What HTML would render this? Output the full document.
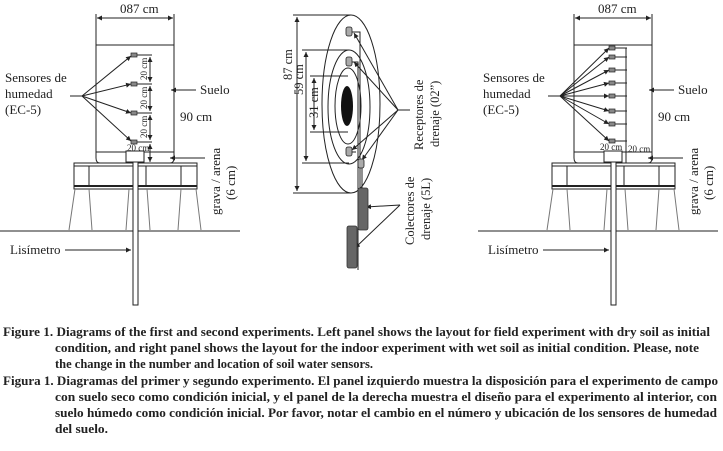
<!DOCTYPE html>
<html><head><meta charset="utf-8"><style>
html,body{margin:0;padding:0;background:#fff;}
svg{display:block;}
text{font-family:"Liberation Serif",serif;fill:#222;}
.cap{font-weight:bold;font-size:12.5px;}
</style></head><body>
<svg width="723" height="451" viewBox="0 0 723 451" xmlns="http://www.w3.org/2000/svg">
<defs>
<marker id="a" markerWidth="6" markerHeight="6" refX="5" refY="3" orient="auto"><path d="M0,0.5 L5,3 L0,5.5z" fill="#222"/></marker>
<marker id="b" markerWidth="6" markerHeight="6" refX="1" refY="3" orient="auto"><path d="M6,0.5 L1,3 L6,5.5z" fill="#222"/></marker>
<g id="base" stroke="#222" fill="none" stroke-width="1">
  <path d="M96,45 H174 V158 Q174,163 170,163 M96,45 V158 Q96,163 100,163"/>
  <line x1="96" y1="152" x2="174" y2="152"/>
  <line x1="96" y1="14" x2="96" y2="45"/><line x1="174" y1="14" x2="174" y2="45"/>
  <line x1="97" y1="18" x2="173" y2="18" marker-start="url(#b)" marker-end="url(#a)"/>
  <rect x="74" y="163" width="123" height="26"/>
  <line x1="74" y1="166" x2="197" y2="166"/><line x1="74" y1="186" x2="197" y2="186" stroke-width="2"/>
  <line x1="89" y1="166" x2="89" y2="186"/><line x1="146" y1="166" x2="146" y2="186"/><line x1="181" y1="166" x2="181" y2="186"/>
  <path d="M75,189 L69,230 M89,189 L92,230 M129,189 L126,230 M147,189 L150,230 M181,189 L178,230 M196,189 L201,230" stroke="#777"/>
  <line x1="0" y1="231" x2="240" y2="231"/>
  <rect x="133" y="160" width="5" height="145" fill="#fff"/>
  <rect x="126" y="151" width="18" height="11" fill="#fff"/>
  <line x1="65" y1="250" x2="131" y2="250" marker-end="url(#a)"/>
  <line x1="196" y1="90" x2="171" y2="90" marker-end="url(#a)"/>
  <line x1="205" y1="158" x2="170" y2="158" marker-end="url(#a)"/>
  <line x1="70" y1="96" x2="82" y2="96"/>
</g>
</defs>

<!-- LEFT PANEL -->
<use href="#base"/>
<text x="120" y="13" font-size="13">087 cm</text>
<text x="5" y="82" font-size="13">Sensores de</text>
<text x="5" y="98" font-size="13">humedad</text>
<text x="5" y="114" font-size="13">(EC-5)</text>
<text x="200" y="94" font-size="13">Suelo</text>
<text x="180" y="121" font-size="13">90 cm</text>
<text x="10" y="254" font-size="13">Lisímetro</text>
<text transform="translate(220,215) rotate(-90)" font-size="13">grava / arena</text>
<text transform="translate(235,200) rotate(-90)" font-size="13">(6 cm)</text>
<g stroke="#222" fill="none">
  <line x1="82" y1="96" x2="131" y2="56" marker-end="url(#a)"/>
  <line x1="82" y1="96" x2="131" y2="84" marker-end="url(#a)"/>
  <line x1="82" y1="96" x2="131" y2="113" marker-end="url(#a)"/>
  <line x1="82" y1="96" x2="131" y2="141" marker-end="url(#a)"/>
  <line x1="137" y1="55" x2="152" y2="55"/><line x1="137" y1="84" x2="152" y2="84"/><line x1="137" y1="113" x2="152" y2="113"/><line x1="137" y1="142" x2="152" y2="142"/>
  <line x1="150" y1="57" x2="150" y2="82" marker-start="url(#b)" marker-end="url(#a)"/>
  <line x1="150" y1="86" x2="150" y2="111" marker-start="url(#b)" marker-end="url(#a)"/>
  <line x1="150" y1="115" x2="150" y2="140" marker-start="url(#b)" marker-end="url(#a)"/>
  <line x1="150" y1="144" x2="150" y2="162" marker-start="url(#b)" marker-end="url(#a)"/>
</g>
<g fill="#888" stroke="#222" stroke-width="0.7">
  <rect x="131" y="53" width="6" height="4"/><rect x="131" y="82" width="6" height="4"/><rect x="131" y="111" width="6" height="4"/><rect x="131" y="140" width="6" height="4"/>
</g>
<g font-size="9">
<text transform="translate(147,80) rotate(-90)">20 cm</text>
<text transform="translate(147,109) rotate(-90)">20 cm</text>
<text transform="translate(147,138) rotate(-90)">20 cm</text>
<text x="127" y="151">20 cm</text>
</g>

<!-- RIGHT PANEL -->
<use href="#base" transform="translate(478,0)"/>
<text x="598" y="13" font-size="13">087 cm</text>
<text x="483" y="82" font-size="13">Sensores de</text>
<text x="483" y="98" font-size="13">humedad</text>
<text x="483" y="114" font-size="13">(EC-5)</text>
<text x="678" y="94" font-size="13">Suelo</text>
<text x="658" y="121" font-size="13">90 cm</text>
<text x="488" y="254" font-size="13">Lisímetro</text>
<text transform="translate(698,215) rotate(-90)" font-size="13">grava / arena</text>
<text transform="translate(713,200) rotate(-90)" font-size="13">(6 cm)</text>
<g stroke="#222" fill="none">
  <g marker-end="url(#a)">
  <line x1="560" y1="96" x2="609" y2="48"/><line x1="560" y1="96" x2="609" y2="57"/><line x1="560" y1="96" x2="609" y2="70"/><line x1="560" y1="96" x2="609" y2="83"/>
  <line x1="560" y1="96" x2="609" y2="96"/><line x1="560" y1="96" x2="609" y2="111"/><line x1="560" y1="96" x2="609" y2="124"/><line x1="560" y1="96" x2="609" y2="141"/>
  </g>
  <path d="M615,48 H627 M615,57 H627 M615,70 H627 M615,83 H627 M615,96 H627 M615,111 H627 M615,124 H627 M615,141 H627 M626,48 V141"/>
  <line x1="626" y1="141" x2="626" y2="163"/>
</g>
<g fill="#888" stroke="#222" stroke-width="0.7">
  <rect x="609" y="46" width="6" height="4"/><rect x="609" y="55" width="6" height="4"/><rect x="609" y="68" width="6" height="4"/><rect x="609" y="81" width="6" height="4"/>
  <rect x="609" y="94" width="6" height="4"/><rect x="609" y="109" width="6" height="4"/><rect x="609" y="122" width="6" height="4"/><rect x="609" y="139" width="6" height="4"/>
</g>
<text x="600" y="150" font-size="9">20 cm</text>
<text x="628" y="152" font-size="9">20 cm</text>

<!-- CENTER -->
<g stroke="#222" fill="none">
  <ellipse cx="351" cy="104" rx="29" ry="89" fill="#fff"/>
  <ellipse cx="349" cy="107" rx="21" ry="57"/>
  <ellipse cx="348" cy="106" rx="13" ry="38"/>
  <line x1="297" y1="17" x2="297" y2="191" marker-start="url(#b)" marker-end="url(#a)"/>
  <line x1="293" y1="15" x2="351" y2="15"/><line x1="293" y1="193" x2="351" y2="193"/>
  <line x1="306" y1="52" x2="306" y2="161" marker-start="url(#b)" marker-end="url(#a)"/>
  <line x1="302" y1="50" x2="349" y2="50"/><line x1="302" y1="163" x2="349" y2="163"/>
  <line x1="314" y1="78" x2="314" y2="130" marker-start="url(#b)" marker-end="url(#a)"/>
  <line x1="310" y1="76" x2="348" y2="76"/><line x1="310" y1="132" x2="348" y2="132"/>
  <path d="M352,32 H360 V230 M352,62 H358 V190 M352,152 H356 M362,164 V190 M358,190 V270"/>
  <line x1="398" y1="110" x2="354" y2="33" marker-end="url(#a)"/>
  <line x1="398" y1="110" x2="354" y2="62" marker-end="url(#a)"/>
  <line x1="398" y1="110" x2="352" y2="150" marker-end="url(#a)"/>
  <line x1="398" y1="110" x2="362" y2="160" marker-end="url(#a)"/>
  <line x1="398" y1="110" x2="410" y2="110"/>
  <line x1="400" y1="205" x2="366" y2="207" marker-end="url(#a)"/>
  <line x1="400" y1="205" x2="355" y2="248" marker-end="url(#a)"/>
</g>
<ellipse cx="347" cy="106" rx="6" ry="20" fill="#111"/>
<g fill="#aaa" stroke="#222" stroke-width="0.8">
  <rect x="346" y="27" width="6" height="9" rx="2"/><rect x="346" y="57" width="6" height="9" rx="2"/>
  <rect x="346" y="147" width="6" height="9" rx="2"/><rect x="358" y="159" width="6" height="9" rx="2"/>
</g>
<g fill="#666" stroke="#333" stroke-width="0.8">
  <rect x="358" y="188" width="10" height="42" rx="2"/>
  <rect x="347" y="226" width="10" height="42" rx="2"/>
</g>
<g font-size="12.5">
<text transform="translate(292,80) rotate(-90)">87 cm</text>
<text transform="translate(303,95) rotate(-90)">59 cm</text>
<text transform="translate(318,118) rotate(-90)">31 cm</text>
<text transform="translate(423,150) rotate(-90)">Receptores de</text>
<text transform="translate(439,147) rotate(-90)">drenaje (02”)</text>
<text transform="translate(414,245) rotate(-90)">Colectores de</text>
<text transform="translate(430,240) rotate(-90)">drenaje (5L)</text>
</g>

<!-- CAPTION -->
<g class="cap">
<text x="3" y="336" textLength="707" lengthAdjust="spacingAndGlyphs">Figure 1. Diagrams of the first and second experiments. Left panel shows the layout for field experiment with dry soil as initial</text>
<text x="55" y="352" textLength="644" lengthAdjust="spacingAndGlyphs">condition, and right panel shows the layout for the indoor experiment with wet soil as initial condition. Please, note</text>
<text x="55" y="368" textLength="318" lengthAdjust="spacingAndGlyphs">the change in the number and location of soil water sensors.</text>
<text x="3" y="385" textLength="715" lengthAdjust="spacingAndGlyphs">Figura 1. Diagramas del primer y segundo experimento. El panel izquierdo muestra la disposición para el experimento de campo</text>
<text x="55" y="401" textLength="662" lengthAdjust="spacingAndGlyphs">con suelo seco como condición inicial, y el panel de la derecha muestra el diseño para el experimento al interior, con</text>
<text x="55" y="417" textLength="662" lengthAdjust="spacingAndGlyphs">suelo húmedo como condición inicial. Por favor, notar el cambio en el número y ubicación de los sensores de humedad</text>
<text x="55" y="433" textLength="53" lengthAdjust="spacingAndGlyphs">del suelo.</text>
</g>
</svg>
</body></html>
